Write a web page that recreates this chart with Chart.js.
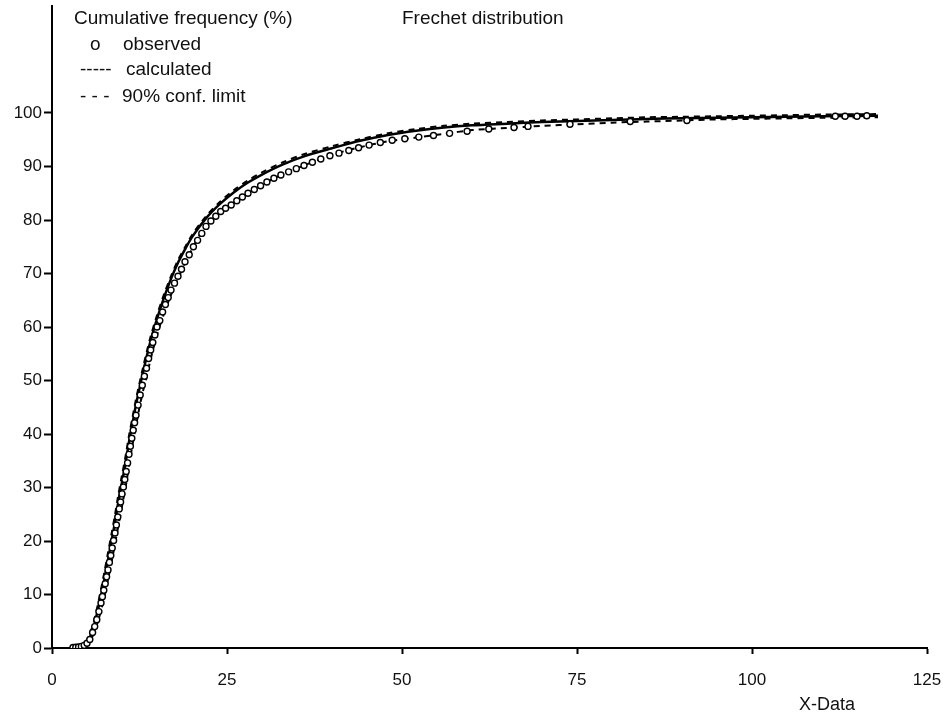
<!DOCTYPE html>
<html>
<head>
<meta charset="utf-8">
<script src="https://cdn.jsdelivr.net/npm/chart.js@4.4.1/dist/chart.umd.min.js"></script>
<style>
html,body{margin:0;padding:0;background:#fff;}
#wrap{width:948px;height:717px;position:relative;}
</style>
</head>
<body>
<div id="wrap"><canvas id="c" width="948" height="717"></canvas></div>
<script>
// ---- data ----
const xTicks = [0, 25, 50, 75, 100, 125];
const yTicks = [0, 10, 20, 30, 40, 50, 60, 70, 80, 90, 100];

const calcX = [4,4.5,5,5.5,6,6.5,7,7.5,8,8.5,9,9.5,10,10.5,11,11.5,12,12.5,13,14,15,16,17,18,19,20,22,24,26,28,30,33,36,40,44,48,52,56,60,65,70,75,80,85,90,95,100,105,110,118];
const calcY = [0.1,0.4,1.1,2.3,4.3,6.8,9.8,13,16.5,20,23.5,27.5,31,34.5,38.5,42,45.5,48.5,51.5,57,61.5,65.5,69,72,74.5,76.8,80.3,83,85.2,87,88.5,90.4,91.9,93.4,94.8,95.9,96.7,97.3,97.7,98.0,98.3,98.5,98.7,98.9,99.0,99.1,99.2,99.3,99.4,99.5];

const upperX = [3.5,4,4.5,5,5.5,6,6.5,7,7.5,8,8.5,9,9.5,10,10.5,11,11.5,12,12.5,13,14,15,16,17,18,19,20,22,24,26,28,30,33,36,40,44,48,52,56,60,65,70,75,80,85,90,95,100,105,110,118];
const upperY = [0.1,0.2,0.6,1.5,2.9,5.1,7.8,11.0,14.3,17.8,21.3,24.9,28.8,32.3,35.8,39.7,43.1,46.5,49.5,52.4,57.8,62.2,66.1,69.5,72.5,74.9,77.2,80.7,83.4,85.6,87.4,88.9,90.8,92.3,93.8,95.1,96.2,97.0,97.6,98.0,98.3,98.6,98.8,99.0,99.2,99.3,99.4,99.5,99.6,99.7,99.8];

const lowerX = [3,4,5,5.5,6,6.5,7,7.5,8,8.5,9,9.5,10,10.5,11,11.5,12,12.5,13,13.5,14,15,16,17,18,19,20,21,22,24,26,28,30,33,36,40,44,48,52,56,60,65,70,75,80,85,90,95,100,105,110,118];
const lowerY = [0,0.2,0.7,1.5,2.8,4.7,7,9.7,12.8,16,19.5,23,26.5,30,34,38,41.5,45,48,50.5,53.5,58.5,62.5,66,69,72,74.5,77,78.8,81.5,83.3,85,86.6,88.6,90.2,92.2,93.6,94.7,95.4,96.1,96.8,97.2,97.6,97.9,98.2,98.4,98.6,98.8,98.9,99.0,99.1,99.2];

const obsX = [3.0,3.4,3.8,4.2,4.6,5.0,5.4,5.8,6.1,6.4,6.7,7.0,7.2,7.4,7.6,7.8,8.0,8.2,8.4,8.6,8.8,9.0,9.2,9.4,9.6,9.8,10.0,10.2,10.4,10.6,10.8,11.0,11.2,11.4,11.6,11.8,12.0,12.3,12.6,12.9,13.2,13.5,13.8,14.1,14.4,14.7,15.0,15.4,15.8,16.2,16.6,17.0,17.5,18.0,18.5,19.0,19.6,20.2,20.8,21.4,22.0,22.7,23.4,24.1,24.8,25.6,26.4,27.2,28.0,28.9,29.8,30.7,31.7,32.7,33.8,34.9,36.0,37.2,38.4,39.7,41.0,42.4,43.8,45.3,46.9,48.6,50.4,52.4,54.5,56.8,59.3,62.4,66.0,68.0,74.0,82.6,90.7,111.9,113.3,115.0,116.4];
const obsY = [0.1,0.15,0.2,0.3,0.5,0.9,1.6,2.9,4.0,5.3,6.8,8.4,9.6,10.8,12.0,13.3,14.6,16.0,17.3,18.7,20.1,21.5,23.0,24.5,26.0,27.3,28.8,30.1,31.5,33.0,34.6,36.2,37.7,39.2,40.7,42.1,43.5,45.4,47.3,49.1,50.8,52.3,54.1,55.7,57.1,58.5,60.0,61.2,62.8,64.2,65.5,66.9,68.2,69.5,70.8,72.2,73.5,75.0,76.2,77.5,78.8,79.8,80.7,81.6,82.2,82.8,83.6,84.3,85.0,85.7,86.4,87.1,87.8,88.4,89.0,89.6,90.2,90.8,91.4,92.0,92.5,93.0,93.5,94.0,94.5,94.9,95.2,95.5,95.8,96.2,96.6,97.0,97.3,97.5,97.9,98.4,98.6,99.4,99.4,99.4,99.5];

const pts = (xs, ys) => xs.map((x, i) => ({x: x, y: ys[i]}));

const FONT = '"Liberation Sans", Arial, sans-serif';
const INK = '#111';

const textPlugin = {
  id: 'texts',
  afterDraw(chart) {
    const ctx = chart.ctx;
    ctx.save();
    ctx.fillStyle = INK;
    ctx.textBaseline = 'alphabetic';
    ctx.textAlign = 'left';
    ctx.font = '19px ' + FONT;
    ctx.fillText('Cumulative frequency (%)', 74, 24);
    ctx.fillText('Frechet distribution', 402, 24);
    ctx.fillText('o', 90, 50);
    ctx.fillText('observed', 123, 50);
    ctx.fillText('-----', 80, 75);
    ctx.fillText('calculated', 126, 75);
    ctx.fillText('- - -', 80, 102);
    ctx.fillText('90% conf. limit', 122, 102);
    ctx.font = '18px ' + FONT;
    ctx.fillText('X-Data', 799, 710);
    ctx.restore();
  }
};

new Chart(document.getElementById('c'), {
  type: 'scatter',
  data: {
    datasets: [
      {label: 'observed', data: pts(obsX, obsY), showLine: false, pointRadius: 3, pointBorderWidth: 1.4,
       pointBorderColor: '#000', pointBackgroundColor: '#fff', order: 0},
      {label: 'calculated', data: pts(calcX, calcY), showLine: true, borderColor: '#000', borderWidth: 2.5,
       pointRadius: 0, tension: 0.3, order: 2},
      {label: '90% conf. limit (upper)', data: pts(upperX, upperY), showLine: true, borderColor: '#000', borderWidth: 2,
       borderDash: [6, 5], pointRadius: 0, tension: 0.3, order: 3},
      {label: '90% conf. limit (lower)', data: pts(lowerX, lowerY), showLine: true, borderColor: '#000', borderWidth: 2,
       borderDash: [6, 5], pointRadius: 0, tension: 0.3, order: 1}
    ]
  },
  options: {
    responsive: false,
    animation: false,
    events: [],
    layout: {padding: {top: 6, right: 21, left: 0, bottom: 0}},
    plugins: {legend: {display: false}, tooltip: {enabled: false}, title: {display: false}},
    scales: {
      x: {
        type: 'linear', min: 0, max: 125,
        afterBuildTicks: s => { s.ticks = xTicks.map(v => ({value: v})); },
        afterFit: s => { s.height = 69; s.paddingLeft = 0; s.paddingRight = 0; },
        grid: {display: true, drawOnChartArea: false, drawTicks: true, tickLength: 6, tickColor: '#000', tickWidth: 2},
        border: {display: true, color: '#000', width: 2},
        ticks: {color: INK, font: {family: FONT, size: 17}, padding: 16, maxRotation: 0}
      },
      y: {
        type: 'linear', min: 0, max: 120,
        afterBuildTicks: s => { s.ticks = yTicks.map(v => ({value: v})); },
        afterFit: s => { s.width = 52; s.paddingTop = 0; s.paddingBottom = 0; },
        grid: {display: true, drawOnChartArea: false, drawTicks: true, tickLength: 8, tickColor: '#000', tickWidth: 2},
        border: {display: true, color: '#000', width: 2},
        ticks: {color: INK, font: {family: FONT, size: 17}, padding: 2}
      }
    }
  },
  plugins: [textPlugin]
});
</script>
</body>
</html>
